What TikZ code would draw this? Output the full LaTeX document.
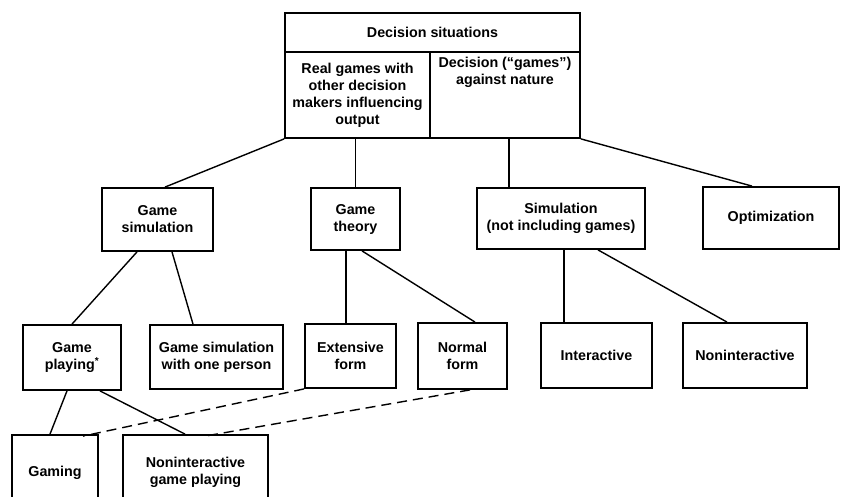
\documentclass[tikz,border=0pt]{standalone}
\usepackage{fontspec}
\setmainfont{Liberation Sans}
\usetikzlibrary{calc}
\tikzset{
  box/.style={draw, line width=1.8pt, inner sep=0pt, align=center, fill=white,
    font=\fontsize{14.3}{17}\selectfont\bfseries},
  lbl/.style={inner sep=0pt, align=center, font=\fontsize{14.3}{17}\selectfont\bfseries},
  conn/.style={line width=1.4pt},
  dconn/.style={line width=1.4pt, dash pattern=on 10pt off 6pt},
}
\begin{document}
\begin{tikzpicture}[x=1pt, y=-1pt]
\useasboundingbox (0,0) rectangle (841,497);
\clip (0,0) rectangle (841,497);
\fill[white] (0,0) rectangle (841,497);

% top box
\node[box, minimum width=295pt, minimum height=39pt] (title) at (432.5,32.5) {Decision situations};
\node[box, minimum width=145pt, minimum height=86pt] (lcell) at (357.5,95)
  {Real games with\\other decision\\makers influencing\\output};
\node[box, minimum width=150pt, minimum height=86pt] (rcell) at (505,95) {};
\node[lbl, anchor=north] (rtext) at ([yshift=-6pt]rcell.north) {Decision (“games”)\\against nature};

% level 2
\node[box, minimum width=111pt, minimum height=63pt] (gsim) at (157.5,219.5) {Game\\simulation};
\node[box, minimum width=89pt, minimum height=62pt] (gth) at (355.5,219) {Game\\theory};
\node[box, minimum width=168pt, minimum height=61pt] (sim) at (561,218.5) {Simulation\\(not including games)};
\node[box, minimum width=136pt, minimum height=62pt] (opt) at (771,218) {Optimization};

% level 3
\node[box, minimum width=98pt, minimum height=65pt] (gplay) at (72,357.5) {Game\\playing\textsuperscript{*}};
\node[box, minimum width=133pt, minimum height=64pt] (gone) at (216.5,357) {Game simulation\\with one person};
\node[box, minimum width=91pt, minimum height=64pt] (ext) at (350.5,356) {Extensive\\form};
\node[box, minimum width=89pt, minimum height=66pt] (normal) at (462.5,356) {Normal\\form};
\node[box, minimum width=111pt, minimum height=65pt] (inter) at (596.5,355.5) {Interactive};
\node[box, minimum width=124pt, minimum height=65pt] (nonint) at (745,355.5) {Noninteractive};

% level 4
\node[box, minimum width=86pt, minimum height=75pt] (gaming) at (55,472.5) {Gaming};
\node[box, minimum width=145pt, minimum height=75pt] (ngp) at (195.5,472.5) {Noninteractive\\game playing};

% connectors
\draw[conn] (lcell.south west) -- ([xshift=7.5pt]gsim.north);
\draw[conn] (lcell.south -| gth.north) -- (gth.north);
\draw[conn] ([xshift=4pt]rcell.south) -- ([xshift=4pt]rcell.south |- sim.north);
\draw[conn] (rcell.south east) -- ([xshift=-19pt]opt.north);

\draw[conn] ([xshift=-20.5pt]gsim.south) -- (gplay.north);
\draw[conn] ([xshift=14.5pt]gsim.south) -- ([xshift=-23.5pt]gone.north);
\draw[conn] ([xshift=-9.5pt]gth.south) -- ([xshift=-9.5pt]gth.south |- ext.north);
\draw[conn] ([xshift=6.5pt]gth.south) -- ([xshift=12.5pt]normal.north);
\draw[conn] ([xshift=3pt]sim.south) -- ([xshift=3pt]sim.south |- inter.north);
\draw[conn] ([xshift=37pt]sim.south) -- ([xshift=-18pt]nonint.north);

\draw[conn] ([xshift=-5pt]gplay.south) -- ([xshift=-5pt]gaming.north);
\draw[conn] ([xshift=28pt]gplay.south) -- ([xshift=-10.5pt]ngp.north);
\draw[dconn] (ext.south west) -- ([xshift=28pt,yshift=-2pt]gaming.north);
\draw[dconn] ([xshift=7.5pt]normal.south) -- ([xshift=9.5pt,yshift=-2pt]ngp.north);
\end{tikzpicture}
\end{document}
